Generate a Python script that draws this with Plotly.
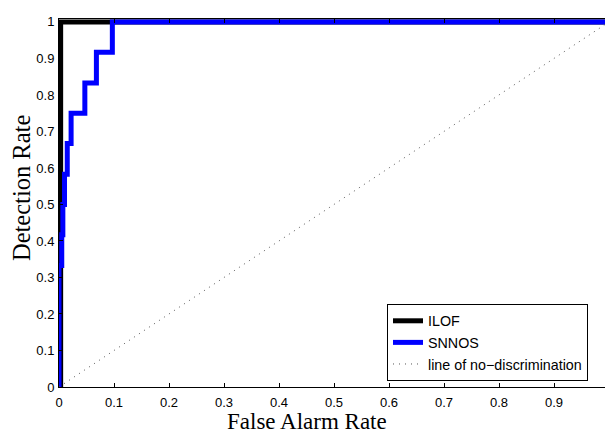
import plotly.graph_objects as go

# ROC data
ilof_fpr = [0, 0.003, 1]
ilof_tpr = [0, 1, 1]
snnos_fpr = [0, 0, 0.005, 0.007, 0.010, 0.015, 0.022, 0.047, 0.068, 0.097, 1]
snnos_tpr = [0, 0.333, 0.417, 0.5, 0.583, 0.667, 0.75, 0.833, 0.917, 1, 1]
diag_x = [0, 1]
diag_y = [0, 1]

x_ticks = [0, 0.1, 0.2, 0.3, 0.4, 0.5, 0.6, 0.7, 0.8, 0.9]
x_tick_labels = ["0", "0.1", "0.2", "0.3", "0.4", "0.5", "0.6", "0.7", "0.8", "0.9"]
y_ticks = [0, 0.1, 0.2, 0.3, 0.4, 0.5, 0.6, 0.7, 0.8, 0.9, 1]
y_tick_labels = ["0", "0.1", "0.2", "0.3", "0.4", "0.5", "0.6", "0.7", "0.8", "0.9", "1"]

W, H = 605, 433
ML, MR, MT, MB = 59, 0, 19, 46

fig = go.Figure()
fig.add_trace(go.Scatter(x=ilof_fpr, y=ilof_tpr, mode="lines", name="ILOF",
                         line=dict(color="#000000", width=5, shape="hv")))
fig.add_trace(go.Scatter(x=snnos_fpr, y=snnos_tpr, mode="lines", name="SNNOS",
                         line=dict(color="#0000FF", width=5, shape="hv")))
fig.add_trace(go.Scatter(x=diag_x, y=diag_y, mode="lines", name="line of no\u2212discrimination",
                         line=dict(color="#555555", width=1, dash="1px,5px")))

axis_common = dict(showline=True, linecolor="black", linewidth=1, ticks="inside",
                   ticklen=4, tickwidth=1, tickcolor="black", showgrid=False,
                   zeroline=False,
                   tickfont=dict(family="Liberation Sans, Arial", size=13, color="black"))

plot_w = W - ML - MR
plot_h = H - MT - MB


def to_paper(px, py):
    return (px - ML) / plot_w, (H - py - MB) / plot_h


xl_x, xl_y = to_paper(306.5, 421)
yl_x, yl_y = to_paper(21, 188)
lg_x, lg_y = to_paper(387, 304)

fig.update_layout(
    width=W, height=H,
    margin=dict(l=ML, r=MR, t=MT, b=MB),
    paper_bgcolor="white", plot_bgcolor="white",
    showlegend=True,
    legend=dict(x=lg_x, y=lg_y, xanchor="left", yanchor="top",
                bgcolor="white", bordercolor="black", borderwidth=1,
                font=dict(family="Liberation Sans, Arial", size=14.3, color="black"),
                tracegroupgap=0),
    xaxis=dict(range=[0, plot_w / 550], tickvals=x_ticks, ticktext=x_tick_labels,
               mirror="ticks", ticklabelstandoff=3, **axis_common),
    yaxis=dict(range=[0, 1.008], tickvals=y_ticks, ticktext=y_tick_labels,
               mirror=False, ticklabelstandoff=1, **axis_common),
    annotations=[
        dict(text="False Alarm Rate", x=xl_x, y=xl_y,
             xref="paper", yref="paper", showarrow=False,
             xanchor="center", yanchor="middle", height=22, valign="middle",
             font=dict(family="Liberation Serif, Times New Roman", size=23, color="black")),
        dict(text="Detection Rate", x=yl_x, y=yl_y,
             xref="paper", yref="paper", showarrow=False, textangle=-90,
             xanchor="center", yanchor="middle",
             font=dict(family="Liberation Serif, Times New Roman", size=24.5, color="black")),
    ],
)

fig.write_html("out.html", config={"displayModeBar": False},
               post_script="document.body.style.margin='0px';document.body.style.padding='0px';")
